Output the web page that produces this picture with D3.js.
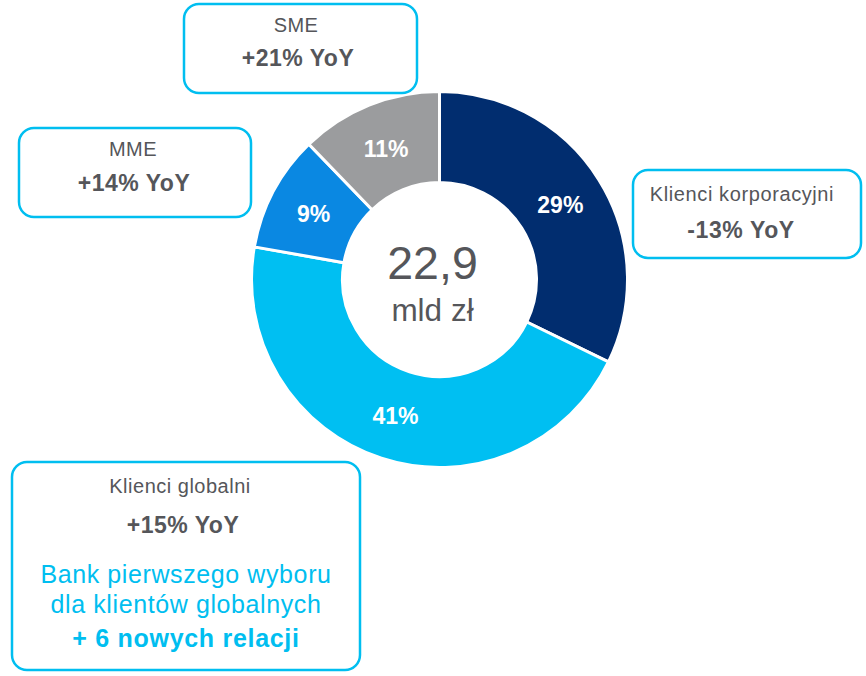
<!DOCTYPE html>
<html><head><meta charset="utf-8">
<script src="https://cdn.jsdelivr.net/npm/d3@7"></script>
<style>body{margin:0;background:#fff}svg{display:block}</style>
</head><body><svg id="c" width="866" height="676"></svg>
<script>
const categories = ["Klienci korporacyjni","Klienci globalni","MME","SME"];
const shares = [29,41,9,11];
const shareLabels = ["29%","41%","9%","11%"];
const yoy = ["-13% YoY","+15% YoY","+14% YoY","+21% YoY"];
const colors = ["#012d6f","#00bff2","#0a88e2","#9b9c9e"];
const centerValue = "22,9";
const centerUnit = "mld zł";
const globalNote = ["Bank pierwszego wyboru","dla klientów globalnych","+ 6 nowych relacji"];

const FONT = "'Liberation Sans', Arial, Helvetica, sans-serif";
const svg = d3.select("#c").style("font-family", FONT);
const cx = 439.5, cy = 279.5, rOut = 188, rIn = 97;
const pie = d3.pie().sort(null).value(d=>d);
const arc = d3.arc().innerRadius(rIn).outerRadius(rOut);
const g = svg.append("g").attr("transform",`translate(${cx},${cy})`);
const arcs = pie(shares);
g.selectAll("path").data(arcs).join("path")
  .attr("d",arc).attr("fill",(d,i)=>colors[i])
  .attr("stroke","#fff").attr("stroke-width",3).attr("stroke-linejoin","miter");
g.selectAll("text.pct").data(arcs).join("text").attr("class","pct")
  .attr("transform",d=>`translate(${arc.centroid(d)})`)
  .attr("text-anchor","middle").attr("dy","0.4em")
  .attr("fill","#fff").attr("font-weight","bold").attr("font-size",23)
  .text((d,i)=>shareLabels[i]);
g.append("text").attr("text-anchor","middle").attr("x",-7).attr("y",-1).attr("fill","#55565a")
  .attr("font-size",46.5).text(centerValue);
g.append("text").attr("text-anchor","middle").attr("x",-7).attr("y",41).attr("fill","#55565a")
  .attr("font-size",31.5).text(centerUnit);

const grey = "#55565a", cyan = "#00bef0";
function box(x,y,w,h){
  svg.append("rect").attr("x",x).attr("y",y).attr("width",w).attr("height",h)
    .attr("rx",15).attr("fill","#fff").attr("stroke",cyan).attr("stroke-width",2.5);
}
function txt(x,y,s,size,bold,col,ls){
  svg.append("text").attr("x",x).attr("y",y).attr("text-anchor","middle")
    .attr("font-size",size).attr("font-weight",bold?"bold":"normal")
    .attr("letter-spacing",ls||0).attr("fill",col||grey).text(s);
}
// SME
box(184,4,233,89);
txt(296,32,categories[3],20,false,grey,0.4); txt(298,66,yoy[3],23,true,grey,0.5);
// MME
box(19,128,232,89);
txt(133,156,categories[2],20,false,grey,0.4); txt(134,191,yoy[2],23,true,grey,0.5);
// Klienci korporacyjni
box(633,170,228,88);
txt(742,201,categories[0],20,false,grey,0.6); txt(741,238,yoy[0],23,true,grey,0.6);
// Klienci globalni
box(12,462,348,208);
txt(180,493,categories[1],20,false,grey,0.5); txt(183,533,yoy[1],23,true,grey,0.5);
txt(186,583,globalNote[0],25,false,cyan,0.6);
txt(186,613,globalNote[1],25,false,cyan,0.6);
txt(186,647,globalNote[2],25,true,cyan,0.7);
</script></body></html>
